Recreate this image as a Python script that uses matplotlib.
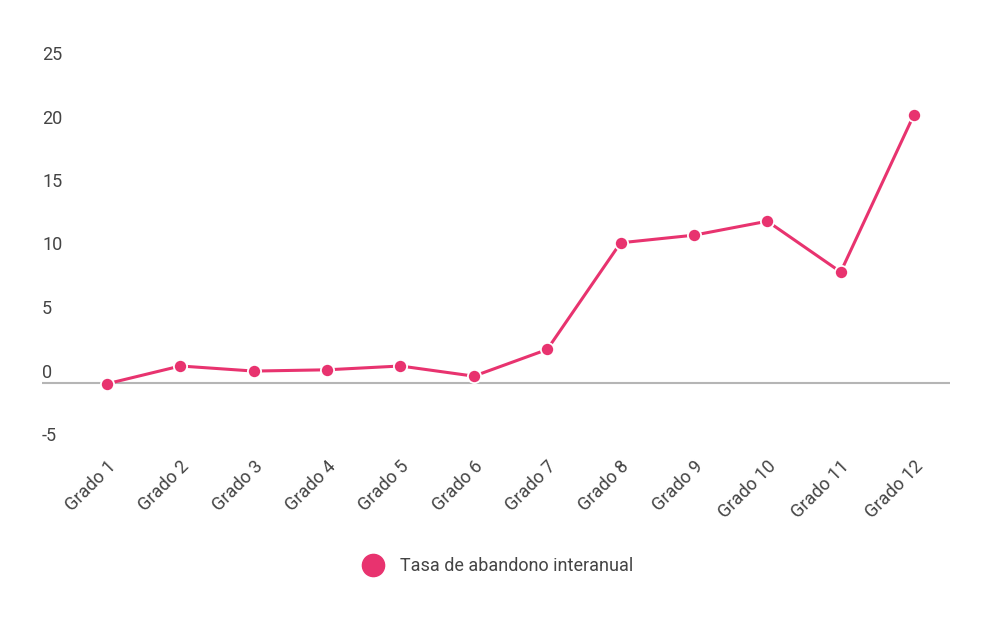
import matplotlib.pyplot as plt
import matplotlib.transforms as mtransforms
from matplotlib.lines import Line2D

plt.rcParams['font.family'] = ['Roboto', 'DejaVu Sans']

# Data
grades = ['Grado 1', 'Grado 2', 'Grado 3', 'Grado 4', 'Grado 5', 'Grado 6',
          'Grado 7', 'Grado 8', 'Grado 9', 'Grado 10', 'Grado 11', 'Grado 12']
dropout_rate = [-0.1, 1.3, 0.9, 1.0, 1.3, 0.5, 2.6, 11.0, 11.6, 12.7, 8.7, 21.1]
y_ticks = [-5, 0, 5, 10, 15, 20, 25]
series_name = 'Tasa de abandono interanual'

pink = '#e8336f'
text_color = '#444444'

fig = plt.figure(figsize=(10.07, 6.26), dpi=100)
ax = fig.add_axes([42 / 1007, 180 / 626, 908 / 1007, 381 / 626])

x = list(range(len(grades)))
ax.plot(x, dropout_rate, color=pink, linewidth=2.2, marker='o', markersize=9.5,
        markerfacecolor=pink, markeredgecolor='white', markeredgewidth=1.3,
        zorder=3, clip_on=False)

ax.axhline(0, color='#b5b5b5', linewidth=1.5, zorder=1)

ax.set_xlim(-0.886, 11.49)
ax.set_ylim(-5, 25)

for s in ax.spines.values():
    s.set_visible(False)

# y labels sit just above their (invisible) gridlines, inside the plot area
ax.set_yticks([])
trans = mtransforms.offset_copy(ax.get_yaxis_transform(), fig=fig, x=0, y=1, units='dots')
for v in y_ticks:
    ax.text(0, v, str(v), transform=trans, ha='left', va='bottom',
            fontsize=13, color=text_color)

ax.set_xticks(x)
ax.set_xticklabels(grades, rotation=45, ha='right', va='center',
                   rotation_mode='anchor', fontsize=13, color=text_color)
ax.tick_params(axis='x', length=0, pad=13)
for lbl in ax.get_xticklabels():
    lbl.set_transform(lbl.get_transform() + mtransforms.ScaledTranslation(6 / 100, 0, fig.dpi_scale_trans))

# legend
handle = Line2D([], [], linestyle='none', marker='o', markersize=16,
                markerfacecolor=pink, markeredgecolor=pink)
fig.legend([handle], [series_name], loc='center', bbox_to_anchor=(494 / 1007, 1 - 566 / 626),
           frameon=False, fontsize=13, labelcolor=text_color, handletextpad=0.5)

fig.savefig('out.png', dpi=100)
